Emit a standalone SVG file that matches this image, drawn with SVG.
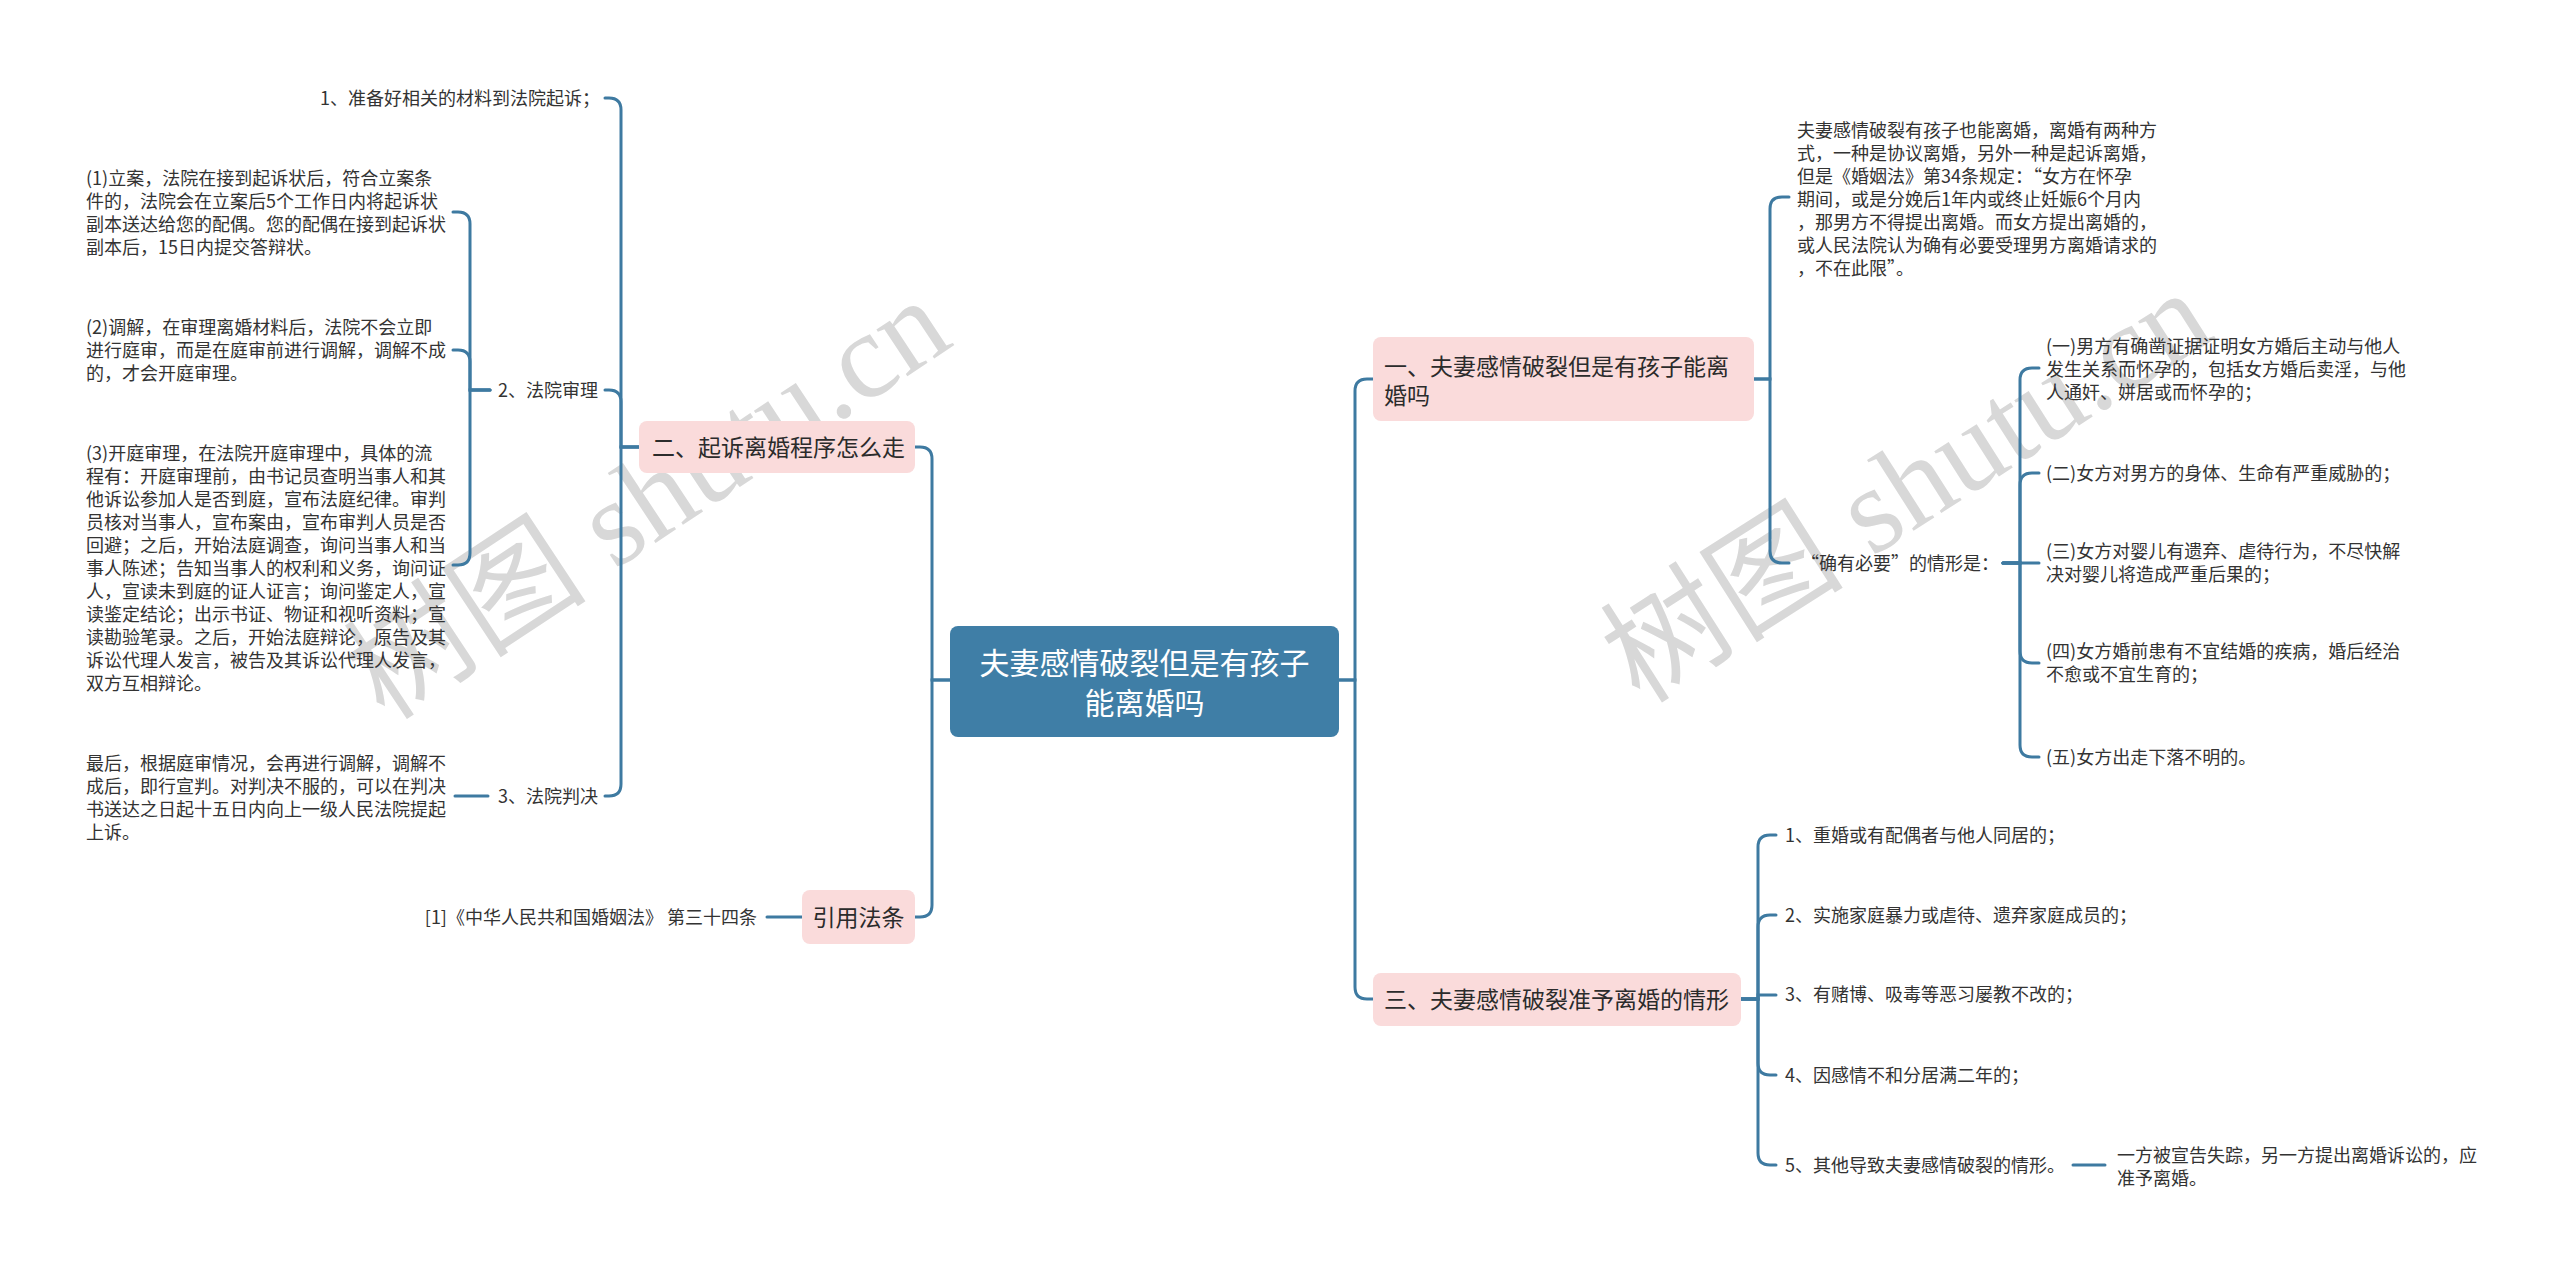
<svg xmlns="http://www.w3.org/2000/svg" width="2560" height="1273" viewBox="0 0 2560 1273">
<style>
  .wm { font-family: "Liberation Serif", "Noto Sans CJK SC", serif; font-size: 122px; fill: #d8d8d8; }
  .conn path { fill: none; stroke: #3e7aa1; stroke-width: 3; stroke-linecap: round; }
  .t { font-family: "Noto Sans CJK SC", "Noto Sans CJK JP", sans-serif; fill: #333333; }
  .leaf { font-size: 18px; }
  .l2 { font-size: 23px; fill: #2b2b2b; }
  .root-t { font-size: 30px; fill: #ffffff; }
  .l2box { fill: #fadbdb; }
  .rootbox { fill: #3f7ea6; }
</style>
<rect x="0" y="0" width="2560" height="1273" fill="#ffffff"/>

<g id="watermarks">
  <text class="wm" transform="translate(385,722) rotate(-33.5)">树图 shutu.cn</text>
  <text class="wm" transform="translate(1640,705) rotate(-32.5)">树图 shutu.cn</text>
</g>

<g id="connectors" class="conn">
  <path d="M950,680 H932 V459 Q932,447 920,447 H915"/>
  <path d="M950,680 H932 V905 Q932,917 920,917 H915"/>
  <path d="M1339,680 H1355 V391 Q1355,379 1367,379 H1373"/>
  <path d="M1339,680 H1355 V987 Q1355,999 1367,999 H1373"/>
  <path d="M639,447 H621 V110 Q621,98 609,98 H605"/>
  <path d="M639,447 H621 V402 Q621,390 609,390 H605"/>
  <path d="M639,447 H621 V784 Q621,796 609,796 H605"/>
  <path d="M490,390 H470 V224 Q470,212 458,212 H453"/>
  <path d="M490,390 H470 V362 Q470,350 458,350 H453"/>
  <path d="M490,390 H470 V553 Q470,565 458,565 H453"/>
  <path d="M488,796 H455"/>
  <path d="M802,917 H767"/>
  <path d="M1754,379 H1770 V209 Q1770,197 1782,197 H1789"/>
  <path d="M1754,379 H1770 V551 Q1770,563 1782,563 H1789"/>
  <path d="M2003,563 H2020 V380 Q2020,368 2032,368 H2039"/>
  <path d="M2003,563 H2020 V485 Q2020,473 2032,473 H2039"/>
  <path d="M2003,563 H2039"/>
  <path d="M2003,563 H2020 V651 Q2020,663 2032,663 H2039"/>
  <path d="M2003,563 H2020 V745 Q2020,757 2032,757 H2039"/>
  <path d="M1741,999 H1758 V847 Q1758,835 1770,835 H1776"/>
  <path d="M1741,999 H1758 V927 Q1758,915 1770,915 H1776"/>
  <path d="M1741,999 H1758 V995 H1776"/>
  <path d="M1741,999 H1758 V1063 Q1758,1075 1770,1075 H1776"/>
  <path d="M1741,999 H1758 V1153 Q1758,1165 1770,1165 H1776"/>
  <path d="M2073,1165 H2105"/>
</g>

<g id="root">
  <rect class="rootbox" x="950" y="626" width="389" height="111" rx="8"/>
  <text class="t root-t" text-anchor="middle" x="1144.5" y="674">夫妻感情破裂但是有孩子</text>
  <text class="t root-t" text-anchor="middle" x="1144.5" y="714">能离婚吗</text>
</g>

<g id="node-er">
  <rect class="l2box" x="639" y="421" width="276" height="52" rx="8"/>
  <text class="t l2" x="652" y="455.5">二、起诉离婚程序怎么走</text>
</g>

<g id="node-yinyong">
  <rect class="l2box" x="802" y="890" width="113" height="54" rx="8"/>
  <text class="t l2" text-anchor="middle" x="858.5" y="925.5">引用法条</text>
</g>

<g id="node-yi">
  <rect class="l2box" x="1373" y="337" width="381" height="84" rx="8"/>
  <text class="t l2" x="1384" y="374.5">一、夫妻感情破裂但是有孩子能离</text>
  <text class="t l2" x="1384" y="403.5">婚吗</text>
</g>

<g id="node-san">
  <rect class="l2box" x="1373" y="973" width="368" height="53" rx="8"/>
  <text class="t l2" x="1384" y="1007.5">三、夫妻感情破裂准予离婚的情形</text>
</g>

<g id="node-step1">
  <text class="t leaf" text-anchor="end" x="600" y="104.5">1、准备好相关的材料到法院起诉；</text>
</g>
<g id="node-step2">
  <text class="t leaf" text-anchor="end" x="598" y="396.5">2、法院审理</text>
</g>
<g id="node-step3">
  <text class="t leaf" text-anchor="end" x="598" y="802.5">3、法院判决</text>
</g>

<g id="node-lian">
  <text class="t leaf" x="86" y="184.5">(1)立案，法院在接到起诉状后，符合立案条</text>
  <text class="t leaf" x="86" y="207.5">件的，法院会在立案后5个工作日内将起诉状</text>
  <text class="t leaf" x="86" y="230.5">副本送达给您的配偶。您的配偶在接到起诉状</text>
  <text class="t leaf" x="86" y="253.5">副本后，15日内提交答辩状。</text>
</g>

<g id="node-tiaojie">
  <text class="t leaf" x="86" y="333.5">(2)调解，在审理离婚材料后，法院不会立即</text>
  <text class="t leaf" x="86" y="356.5">进行庭审，而是在庭审前进行调解，调解不成</text>
  <text class="t leaf" x="86" y="379.5">的，才会开庭审理。</text>
</g>

<g id="node-kaiting">
  <text class="t leaf" x="86" y="459.5">(3)开庭审理，在法院开庭审理中，具体的流</text>
  <text class="t leaf" x="86" y="482.5">程有：开庭审理前，由书记员查明当事人和其</text>
  <text class="t leaf" x="86" y="505.5">他诉讼参加人是否到庭，宣布法庭纪律。审判</text>
  <text class="t leaf" x="86" y="528.5">员核对当事人，宣布案由，宣布审判人员是否</text>
  <text class="t leaf" x="86" y="551.5">回避；之后，开始法庭调查，询问当事人和当</text>
  <text class="t leaf" x="86" y="574.5">事人陈述；告知当事人的权利和义务，询问证</text>
  <text class="t leaf" x="86" y="597.5">人，宣读未到庭的证人证言；询问鉴定人，宣</text>
  <text class="t leaf" x="86" y="620.5">读鉴定结论；出示书证、物证和视听资料；宣</text>
  <text class="t leaf" x="86" y="643.5">读勘验笔录。之后，开始法庭辩论，原告及其</text>
  <text class="t leaf" x="86" y="666.5">诉讼代理人发言，被告及其诉讼代理人发言，</text>
  <text class="t leaf" x="86" y="689.5">双方互相辩论。</text>
</g>

<g id="node-panjue">
  <text class="t leaf" x="86" y="769.5">最后，根据庭审情况，会再进行调解，调解不</text>
  <text class="t leaf" x="86" y="792.5">成后，即行宣判。对判决不服的，可以在判决</text>
  <text class="t leaf" x="86" y="815.5">书送达之日起十五日内向上一级人民法院提起</text>
  <text class="t leaf" x="86" y="838.5">上诉。</text>
</g>

<g id="node-law">
  <text class="t leaf" text-anchor="end" x="757" y="923.5">[1]《中华人民共和国婚姻法》 第三十四条</text>
</g>

<g id="node-intro">
  <text class="t leaf" x="1797" y="136.5">夫妻感情破裂有孩子也能离婚，离婚有两种方</text>
  <text class="t leaf" x="1797" y="159.5">式，一种是协议离婚，另外一种是起诉离婚，</text>
  <text class="t leaf" x="1797" y="182.5">但是《婚姻法》第34条规定：“女方在怀孕</text>
  <text class="t leaf" x="1797" y="205.5">期间，或是分娩后1年内或终止妊娠6个月内</text>
  <text class="t leaf" x="1797" y="228.5">，那男方不得提出离婚。而女方提出离婚的，</text>
  <text class="t leaf" x="1797" y="251.5">或人民法院认为确有必要受理男方离婚请求的</text>
  <text class="t leaf" x="1797" y="274.5">，不在此限”。</text>
</g>

<g id="node-queyou">
  <text class="t leaf" x="1801" y="569.5">“确有必要”的情形是：</text>
</g>

<g id="node-q1">
  <text class="t leaf" x="2046" y="352.5">(一)男方有确凿证据证明女方婚后主动与他人</text>
  <text class="t leaf" x="2046" y="375.5">发生关系而怀孕的，包括女方婚后卖淫，与他</text>
  <text class="t leaf" x="2046" y="398.5">人通奸、姘居或而怀孕的；</text>
</g>
<g id="node-q2">
  <text class="t leaf" x="2046" y="479.5">(二)女方对男方的身体、生命有严重威胁的；</text>
</g>
<g id="node-q3">
  <text class="t leaf" x="2046" y="558">(三)女方对婴儿有遗弃、虐待行为，不尽快解</text>
  <text class="t leaf" x="2046" y="581">决对婴儿将造成严重后果的；</text>
</g>
<g id="node-q4">
  <text class="t leaf" x="2046" y="658">(四)女方婚前患有不宜结婚的疾病，婚后经治</text>
  <text class="t leaf" x="2046" y="681">不愈或不宜生育的；</text>
</g>
<g id="node-q5">
  <text class="t leaf" x="2046" y="763.5">(五)女方出走下落不明的。</text>
</g>

<g id="node-s1"><text class="t leaf" x="1785" y="841.5">1、重婚或有配偶者与他人同居的；</text></g>
<g id="node-s2"><text class="t leaf" x="1785" y="921.5">2、实施家庭暴力或虐待、遗弃家庭成员的；</text></g>
<g id="node-s3"><text class="t leaf" x="1785" y="1001">3、有赌博、吸毒等恶习屡教不改的；</text></g>
<g id="node-s4"><text class="t leaf" x="1785" y="1081.5">4、因感情不和分居满二年的；</text></g>
<g id="node-s5"><text class="t leaf" x="1785" y="1171.5">5、其他导致夫妻感情破裂的情形。</text></g>

<g id="node-s5-child">
  <text class="t leaf" x="2117" y="1161.5">一方被宣告失踪，另一方提出离婚诉讼的，应</text>
  <text class="t leaf" x="2117" y="1184.5">准予离婚。</text>
</g>
</svg>
